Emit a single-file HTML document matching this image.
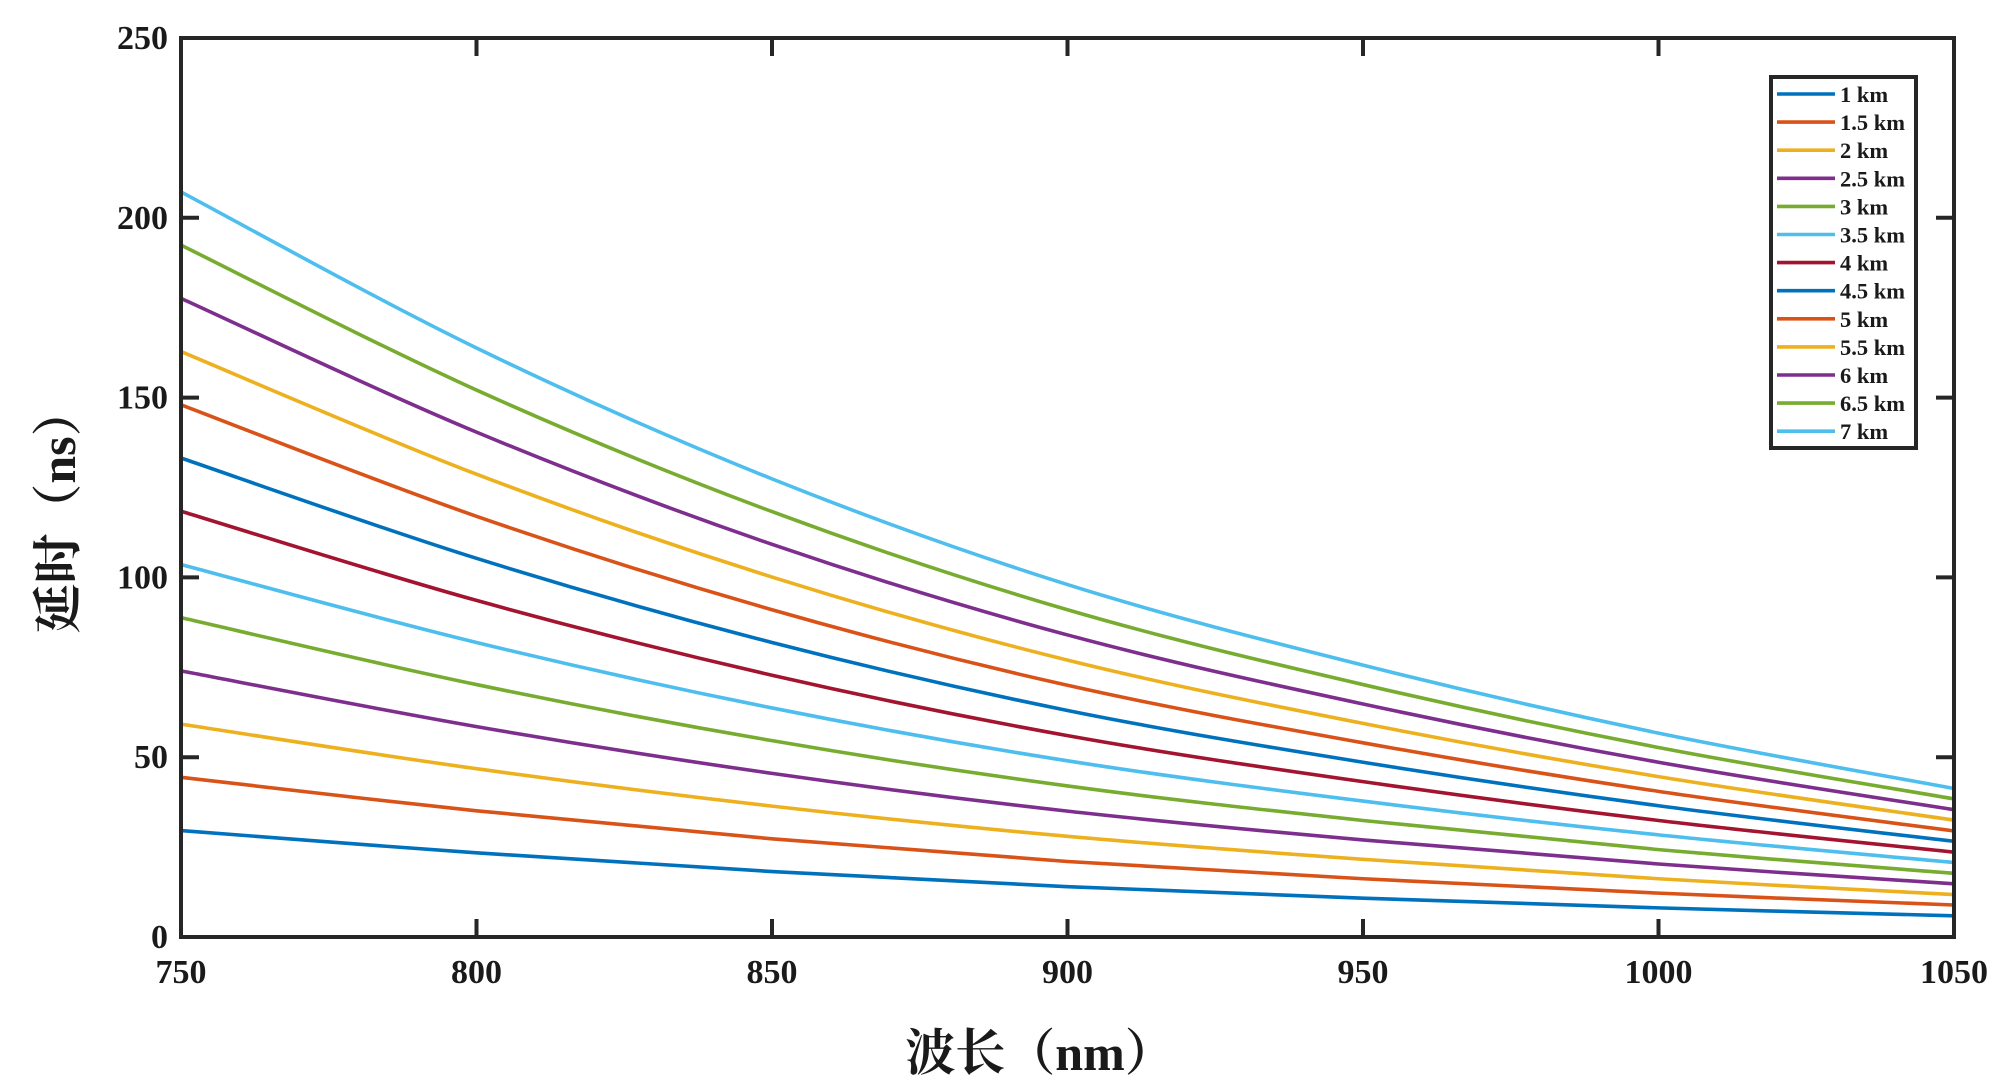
<!DOCTYPE html>
<html><head><meta charset="utf-8"><style>
html,body{margin:0;padding:0;background:#fff;}
svg{display:block;}
text{font-family:"Liberation Serif","Noto Serif CJK SC",serif;font-weight:bold;fill:#1a1a1a;}
</style></head><body>
<svg id="chart" width="2000" height="1087" viewBox="0 0 2000 1087" xmlns="http://www.w3.org/2000/svg">
<rect width="2000" height="1087" fill="#fff"/>
<g id="series"></g>
<g id="axes"></g>
<g id="legend"></g>
<text x="1040" y="1070" text-anchor="middle" font-size="50">波长（nm）</text>
<text transform="translate(75,510) rotate(-90)" text-anchor="middle" font-size="50">延时（ns）</text>
</svg>
<script>
const wavelengths=[750,800,850,900,950,1000,1050];
const seriesNames=["1 km","1.5 km","2 km","2.5 km","3 km","3.5 km","4 km","4.5 km","5 km","5.5 km","6 km","6.5 km","7 km"];
const s1=[29.6,23.4,18.2,14.0,10.8,8.1,5.9];
const s15=[44.4,35.1,27.3,21.0,16.2,12.2,8.9];
const s2=[59.2,46.8,36.4,28.0,21.6,16.2,11.8];
const s25=[74.0,58.5,45.5,35.0,27.0,20.3,14.8];
const s3=[88.8,70.2,54.6,42.0,32.4,24.3,17.7];
const s35=[103.6,81.9,63.7,49.0,37.8,28.4,20.7];
const s4=[118.4,93.6,72.8,56.0,43.2,32.4,23.6];
const s45=[133.2,105.3,81.9,63.0,48.6,36.5,26.6];
const s5=[148.0,117.0,91.0,70.0,54.0,40.5,29.5];
const s55=[162.8,128.7,100.1,77.0,59.4,44.6,32.5];
const s6=[177.6,140.4,109.2,84.0,64.8,48.6,35.4];
const s65=[192.4,152.1,118.3,91.0,70.2,52.7,38.4];
const s7=[207.2,163.8,127.4,98.0,75.6,56.7,41.3];
const xTicks=[750,800,850,900,950,1000,1050];
const yTicks=[0,50,100,150,200,250];
const allSeries=[s1,s15,s2,s25,s3,s35,s4,s45,s5,s55,s6,s65,s7];
const colors=["#0072BD","#D95319","#EDB120","#7E2F8E","#77AC30","#4DBEEE","#A2142F"];
const L=181,R=1954,T=38,B=937;
const xs=v=>L+(v-750)/300*(R-L);
const ys=v=>B-v/250*(B-T);
const NS="http://www.w3.org/2000/svg";
function mk(tag,attrs,parent){const e=document.createElementNS(NS,tag);for(const k in attrs)e.setAttribute(k,attrs[k]);parent.appendChild(e);return e;}
const gS=document.getElementById('series');
allSeries.forEach((vals,i)=>{
  const pts=wavelengths.map((w,j)=>[xs(w),ys(vals[j])]);
  let d="M"+pts[0][0]+","+pts[0][1];
  for(let j=0;j<pts.length-1;j++){
    const p0=pts[Math.max(j-1,0)],p1=pts[j],p2=pts[j+1],p3=pts[Math.min(j+2,pts.length-1)];
    const c1=[p1[0]+(p2[0]-p0[0])/6,p1[1]+(p2[1]-p0[1])/6];
    const c2=[p2[0]-(p3[0]-p1[0])/6,p2[1]-(p3[1]-p1[1])/6];
    d+=" C"+c1[0]+","+c1[1]+" "+c2[0]+","+c2[1]+" "+p2[0]+","+p2[1];
  }
  const p=mk('path',{d:d,fill:"none",stroke:colors[i%7],"stroke-width":3.6},gS);
  
  
});
const gA=document.getElementById('axes');
xTicks.forEach(v=>{
  const x=xs(v);
  mk('line',{x1:x,y1:B,x2:x,y2:B-18,stroke:"#262626","stroke-width":4},gA);
  mk('line',{x1:x,y1:T,x2:x,y2:T+18,stroke:"#262626","stroke-width":4},gA);
  const t=mk('text',{x:x,y:983,"text-anchor":"middle","font-size":34},gA);t.textContent=v;
  
  
});
yTicks.forEach(v=>{
  const y=ys(v);
  mk('line',{x1:L,y1:y,x2:L+18,y2:y,stroke:"#262626","stroke-width":4},gA);
  mk('line',{x1:R,y1:y,x2:R-18,y2:y,stroke:"#262626","stroke-width":4},gA);
  const t=mk('text',{x:168,y:y+11,"text-anchor":"end","font-size":34},gA);t.textContent=v;
  
  
});
const fr=mk('rect',{x:L,y:T,width:R-L,height:B-T,fill:"none",stroke:"#262626","stroke-width":4},gA);


const gL=document.getElementById('legend');


mk('rect',{x:1771,y:77,width:145,height:371,fill:"#fff",stroke:"#262626","stroke-width":4},gL);
seriesNames.forEach((n,i)=>{
  const y=94+i*28.1;
  const g=mk('g',{},gL);
  
  
  mk('line',{x1:1777,y1:y,x2:1835,y2:y,stroke:colors[i%7],"stroke-width":3.6},g);
  const t=mk('text',{x:1840,y:y+8,"font-size":22.5},g);t.textContent=n;
});
</script>
</body></html>
